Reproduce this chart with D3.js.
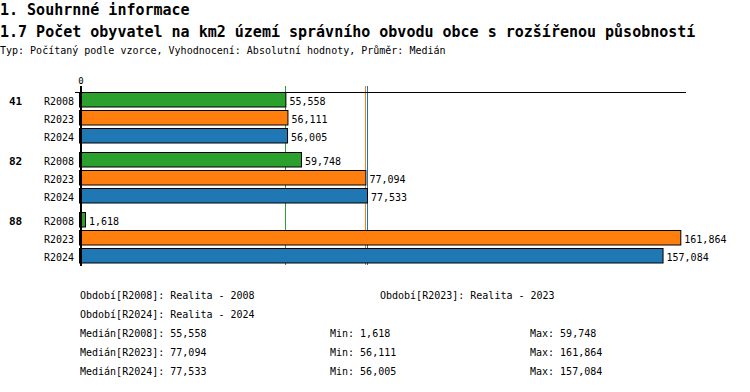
<!DOCTYPE html>
<html><head><meta charset="utf-8">
<script src="https://cdn.jsdelivr.net/npm/d3@7"></script>
<style>body{margin:0;background:#fff}svg{display:block}text{font-family:"DejaVu Sans Mono","Liberation Mono",monospace}</style>
</head><body><svg id="c" width="750" height="392"></svg>
<script>
const groups = ["41", "82", "88"];
const series = ["R2008", "R2023", "R2024"];
const colors = ["#2ca02c", "#ff7f0e", "#1f77b4"];
const valuesR2008 = [55558, 59748, 1618];
const valuesR2023 = [56111, 77094, 161864];
const valuesR2024 = [56005, 77533, 157084];
const medians = [55558, 77094, 77533];
const mins = [1618, 56111, 56005];
const maxs = [59748, 161864, 157084];
const periods = ["Realita - 2008", "Realita - 2023", "Realita - 2024"];
const title1 = "1. Souhrnné informace";
const title2 = "1.7 Počet obyvatel na km2 území správního obvodu obce s rozšířenou působností";
const subtitle = "Typ: Počítaný podle vzorce, Vyhodnocení: Absolutní hodnoty, Průměr: Medián";

const values = { "R2008": valuesR2008, "R2023": valuesR2023, "R2024": valuesR2024 };
const fmt = d3.format(",");
const svg = d3.select("#c");
const x = d3.scaleLinear().domain([0, 161864]).range([79, 680.3]);
const yg = d3.scaleBand().domain(groups).range([92.5, 272.5]);
const ys = d3.scaleBand().domain(series).range([0, 54]);

svg.append("text").attr("x", 0).attr("y", 15).attr("font-size", 15).attr("font-weight", "bold").text(title1);
svg.append("text").attr("x", 0).attr("y", 37).attr("font-size", 15).attr("font-weight", "bold").text(title2);
svg.append("text").attr("x", 0).attr("y", 54).attr("font-size", 10).text(subtitle);

// median lines (behind bars)
medians.forEach((m, i) => {
  const px = Math.round(x(m)) + 0.5;
  svg.append("line").attr("x1", px).attr("x2", px)
    .attr("y1", 86).attr("y2", 265).attr("stroke", colors[i]).attr("stroke-width", 1);
});

// top line
svg.append("line").attr("x1", 75).attr("x2", 686).attr("y1", 92.5).attr("y2", 92.5).attr("stroke", "#000");

groups.forEach((g, gi) => {
  series.forEach((s, si) => {
    const v = values[s][gi];
    const y0 = yg(g) + ys(s);
    svg.append("rect").attr("x", x(0) + 0.5).attr("y", y0).attr("width", x(v) - x(0)).attr("height", 14.5)
      .attr("fill", colors[si]).attr("stroke", "#000").attr("stroke-width", 1);
    svg.append("text").attr("x", x(v) + 4).attr("y", y0 + 12).attr("font-size", 10).text(fmt(v));
    svg.append("text").attr("x", 74).attr("y", y0 + 12).attr("font-size", 10).attr("text-anchor", "end").text(s);
  });
  svg.append("text").attr("x", 9).attr("y", yg(g) + 12).attr("font-size", 11).attr("font-weight", "bold").text(g);
});

// axis
svg.append("line").attr("x1", 81).attr("x2", 81).attr("y1", 86).attr("y2", 266).attr("stroke", "#000").attr("stroke-width", 2);
svg.append("text").attr("x", 81).attr("y", 84).attr("font-size", 9).attr("text-anchor", "middle").text("0");

// footer
const fs = 10;
svg.append("text").attr("x", 80).attr("y", 299).attr("font-size", fs).text(`Období[${series[0]}]: ${periods[0]}`);
svg.append("text").attr("x", 380).attr("y", 299).attr("font-size", fs).text(`Období[${series[1]}]: ${periods[1]}`);
svg.append("text").attr("x", 80).attr("y", 318).attr("font-size", fs).text(`Období[${series[2]}]: ${periods[2]}`);
series.forEach((s, i) => {
  const yy = 337 + i * 19;
  svg.append("text").attr("x", 80).attr("y", yy).attr("font-size", fs).text(`Medián[${s}]: ${fmt(medians[i])}`);
  svg.append("text").attr("x", 330).attr("y", yy).attr("font-size", fs).text(`Min: ${fmt(mins[i])}`);
  svg.append("text").attr("x", 530).attr("y", yy).attr("font-size", fs).text(`Max: ${fmt(maxs[i])}`);
});
</script></body></html>
